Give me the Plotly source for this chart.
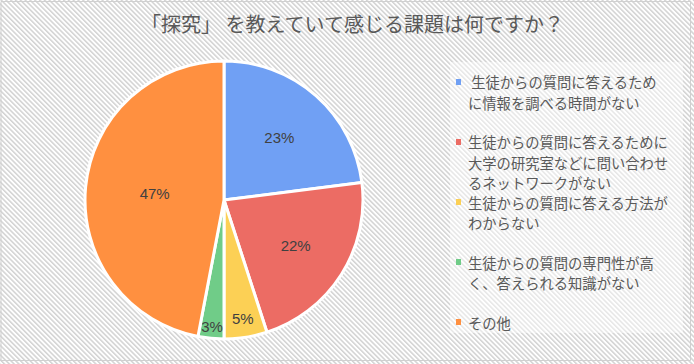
import base64
import plotly.graph_objects as go

# ---------------- data ----------------
title_text = "「探究」 を教えていて感じる課題は何ですか？"
categories = [
    "\u00a0生徒からの質問に答えるため<br>に情報を調べる時間がない",
    "生徒からの質問に答えるために<br>大学の研究室などに問い合わせ<br>るネットワークがない",
    "生徒からの質問に答える方法が<br>わからない",
    "生徒からの質問の専門性が高<br>く、答えられる知識がない",
    "その他",
]
values = [23, 22, 5, 3, 47]
colors = ["#70a0f4", "#ec6c64", "#fcd055", "#70cc88", "#ff9040"]

W, H = 694, 364


def px(x):
    return x / W


def py(y):
    return 1 - y / H


# striped background as an inline svg image
svg = (
    f'<svg xmlns="http://www.w3.org/2000/svg" width="{W}" height="{H}">'
    '<defs><pattern id="p" width="3.4" height="3.4" patternUnits="userSpaceOnUse" '
    'patternTransform="rotate(-45)"><rect width="1.5" height="3.4" fill="#d2d2d2"/></pattern></defs>'
    '<rect width="100%" height="100%" fill="#ffffff"/>'
    '<rect width="100%" height="100%" fill="url(#p)"/></svg>'
)
bg_src = "data:image/svg+xml;base64," + base64.b64encode(svg.encode()).decode()

cx, cy, r = 224, 200, 139

fig = go.Figure(
    go.Pie(
        labels=[c.replace("<br>", "") for c in categories],
        values=values,
        sort=False,
        direction="clockwise",
        rotation=0,
        marker=dict(colors=colors, line=dict(color="white", width=3)),
        textinfo="percent",
        textposition="inside",
        insidetextorientation="horizontal",
        textfont=dict(family="Liberation Sans, Arial", size=15, color="#404040"),
        hoverinfo="label+percent",
        showlegend=False,
        domain=dict(x=[px(cx - r), px(cx + r)], y=[py(cy + r), py(cy - r)]),
    )
)

shapes = [
    # legend panel (lighter)
    dict(type="rect", xref="paper", yref="paper", x0=px(450), x1=px(683), y0=py(333), y1=py(62),
         fillcolor="rgba(255,255,255,0.45)", line=dict(width=0), layer="below"),
    # chart border
    dict(type="rect", xref="paper", yref="paper", x0=px(1), x1=px(690.5), y0=py(360.5), y1=py(1.5),
         line=dict(color="#d0d0d0", width=1), fillcolor="rgba(0,0,0,0)"),
]

annotations = [
    dict(text=title_text, xref="paper", yref="paper", x=px(352), y=py(24), xanchor="center",
         yanchor="middle", showarrow=False,
         font=dict(family="Noto Sans CJK JP", size=20, color="#595959")),
]

# custom legend
gap_after = [True, False, True, True, False]
line_idx = 0
base_y, step = 82, 20
for i, cat in enumerate(categories):
    lines = cat.split("<br>")
    y0 = base_y + line_idx * step
    shapes.append(dict(type="rect", xref="paper", yref="paper",
                       x0=px(456), x1=px(461), y0=py(y0 + 3), y1=py(y0 - 3),
                       fillcolor=colors[i], line=dict(width=0)))
    for ln in lines:
        annotations.append(dict(text=ln, xref="paper", yref="paper",
                                x=px(466), y=py(base_y + line_idx * step),
                                xanchor="left", yanchor="middle", showarrow=False,
                                font=dict(family="Noto Sans CJK JP", size=14.3, color="#595959")))
        line_idx += 1
    if gap_after[i]:
        line_idx += 1

fig.update_layout(
    width=W,
    height=H,
    margin=dict(l=0, r=0, t=0, b=0),
    paper_bgcolor="white",
    plot_bgcolor="rgba(0,0,0,0)",
    uniformtext=dict(minsize=15, mode="show"),
    images=[dict(source=bg_src, xref="paper", yref="paper", x=0, y=1, sizex=1, sizey=1,
                 sizing="stretch", xanchor="left", yanchor="top", layer="below")],
    shapes=shapes,
    annotations=annotations,
)

fig.write_html(
    "out.html",
    config={"displayModeBar": False},
    post_script="document.body.style.margin='0';document.body.style.overflow='hidden';",
)
